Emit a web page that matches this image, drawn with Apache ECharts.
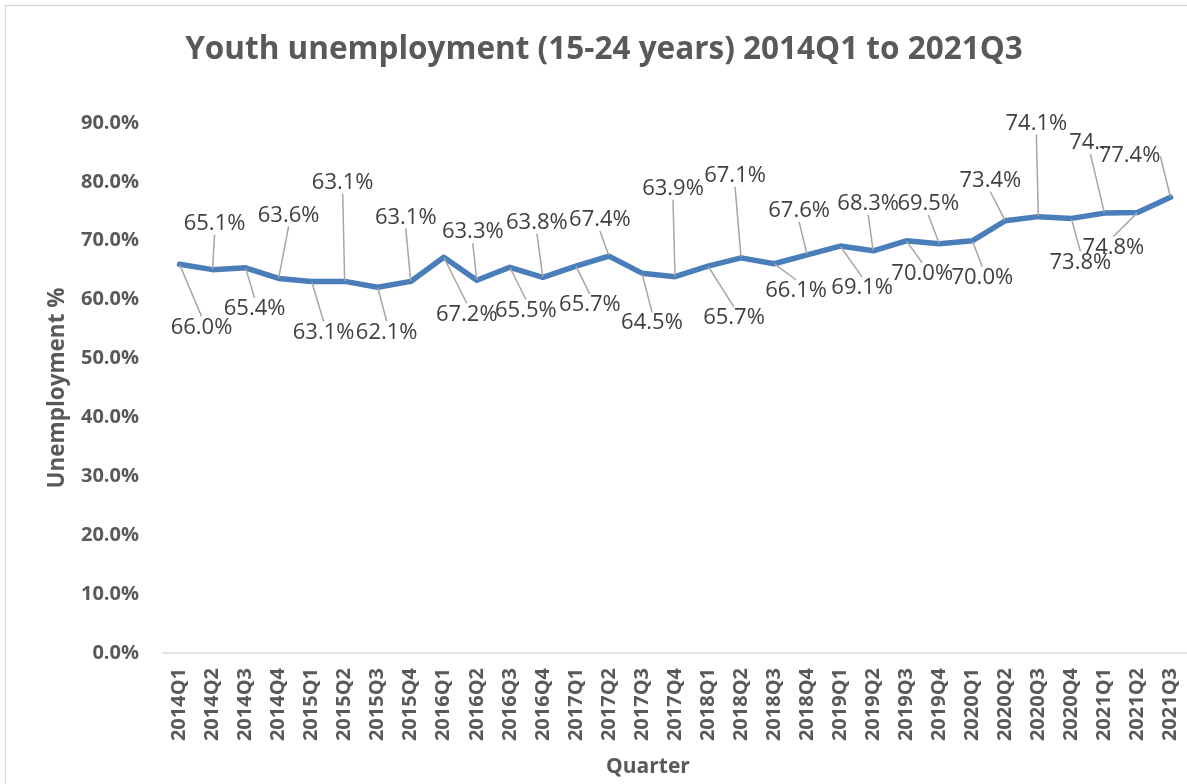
<!DOCTYPE html>
<html>
<head>
<meta charset="utf-8">
<script src="https://cdn.jsdelivr.net/npm/echarts@6/dist/echarts.min.js"></script>
<style>
  html, body { margin: 0; padding: 0; background: #ffffff; }
  #chart { width: 1187px; height: 784px; }
</style>
</head>
<body>
<div id="chart"></div>
<script>
// Quarterly youth unemployment (15-24 years), percent
const quarters = [
  '2014Q1','2014Q2','2014Q3','2014Q4',
  '2015Q1','2015Q2','2015Q3','2015Q4',
  '2016Q1','2016Q2','2016Q3','2016Q4',
  '2017Q1','2017Q2','2017Q3','2017Q4',
  '2018Q1','2018Q2','2018Q3','2018Q4',
  '2019Q1','2019Q2','2019Q3','2019Q4',
  '2020Q1','2020Q2','2020Q3','2020Q4',
  '2021Q1','2021Q2','2021Q3'
];
const unemployment = [
  66.0, 65.1, 65.4, 63.6,
  63.1, 63.1, 62.1, 63.1,
  67.2, 63.3, 65.5, 63.8,
  65.7, 67.4, 64.5, 63.9,
  65.7, 67.1, 66.1, 67.6,
  69.1, 68.3, 70.0, 69.5,
  70.0, 73.4, 74.1, 73.8,
  74.7, 74.8, 77.4
];
const yTicks = [0, 10, 20, 30, 40, 50, 60, 70, 80, 90];

// Placement of each data label relative to its point (px), leader lines follow
const labelShift = [
  [22, 63], [2, -46], [9, 41], [10, -63],
  [12, 51], [-2, -99], [9, 45], [-5, -64],
  [23, 57], [-4, -48], [16, 43], [-6, -55],
  [14, 39], [-9, -36], [10, 50], [-2, -88],
  [26, 52], [-6, -82], [22, 27], [-8, -44],
  [22, 42], [-5, -47], [16, 33], [-11, -40],
  [10, 37], [-15, -40], [-2, -93], [9, 44],
  [-14, -70], [-24, 35], [-41, -41]
];
// Labels squeezed by their neighbours and cut short
const clippedLabels = [28];

const chart = echarts.init(document.getElementById('chart'));

chart.setOption({
  animation: false,
  backgroundColor: '#ffffff',
  graphic: [{
    type: 'rect',
    shape: { x: 5.5, y: 5.5, width: 1200, height: 800 },
    style: { fill: 'none', stroke: '#d9d9d9', lineWidth: 1.5 },
    silent: true
  }],
  title: {
    text: 'Youth unemployment (15-24 years) 2014Q1 to 2021Q3',
    left: 599,
    top: 29,
    textAlign: 'center',
    textStyle: {
      fontFamily: 'Open Sans',
      fontWeight: 'bold',
      fontSize: 31.5,
      color: '#595959'
    }
  },
  grid: { left: 163, right: -8, top: 123, bottom: 131 },
  xAxis: {
    type: 'category',
    data: quarters,
    boundaryGap: true,
    name: 'Quarter',
    nameLocation: 'middle',
    nameGap: 104,
    nameTextStyle: {
      fontFamily: 'Open Sans',
      fontWeight: 'bold',
      fontSize: 21,
      color: '#595959',
      padding: [0, 54, 0, 0]
    },
    axisLine: { show: true, lineStyle: { color: '#d9d9d9', width: 1.5 } },
    axisTick: { show: false },
    axisLabel: {
      rotate: 90,
      margin: 15,
      interval: 0,
      fontFamily: 'Open Sans',
      fontWeight: 'bold',
      fontSize: 20,
      color: '#595959'
    },
    splitLine: { show: false }
  },
  yAxis: {
    type: 'value',
    min: yTicks[0],
    max: yTicks[yTicks.length - 1],
    interval: yTicks[1] - yTicks[0],
    name: 'Unemployment %',
    nameLocation: 'middle',
    nameGap: 94,
    nameRotate: 90,
    nameTextStyle: {
      fontFamily: 'Open Sans',
      fontWeight: 'bold',
      fontSize: 22.5,
      color: '#595959'
    },
    axisLine: { show: false },
    axisTick: { show: false },
    splitLine: { show: false },
    axisLabel: {
      margin: 24,
      fontFamily: 'Open Sans',
      fontWeight: 'bold',
      fontSize: 20,
      color: '#595959',
      formatter: v => v.toFixed(1) + '%'
    }
  },
  series: [{
    type: 'line',
    data: unemployment,
    symbol: 'circle',
    symbolSize: 1,
    showSymbol: true,
    lineStyle: { color: '#4a7ebb', width: 5.5, join: 'round', cap: 'round' },
    itemStyle: { color: '#4a7ebb' },
    label: {
      show: true,
      position: 'inside',
      fontFamily: 'Open Sans',
      fontSize: 22,
      color: '#404040',
      formatter: p => clippedLabels.includes(p.dataIndex)
        ? p.value.toFixed(1).slice(0, 2) + '...'
        : p.value.toFixed(1) + '%'
    },
    labelLine: {
      show: true,
      lineStyle: { color: '#a6a6a6', width: 1.5 }
    },
    labelLayout: p => {
      const s = labelShift[p.dataIndex];
      return { dx: s[0], dy: s[1], hideOverlap: false };
    },
    z: 3
  }]
});
</script>
</body>
</html>
